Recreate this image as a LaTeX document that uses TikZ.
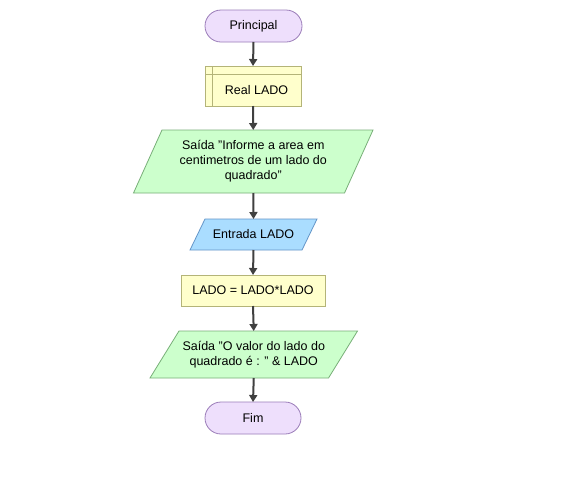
\documentclass[tikz,border=0pt]{standalone}
\usepackage{fontspec}
\setmainfont{Liberation Sans}
\usetikzlibrary{arrows.meta,backgrounds,calc}
\definecolor{termfill}{RGB}{238,223,252}
\definecolor{termdraw}{RGB}{155,125,185}
\definecolor{rectfill}{RGB}{255,255,204}
\definecolor{rectdraw}{RGB}{180,180,120}
\definecolor{outfill}{RGB}{204,255,204}
\definecolor{outdraw}{RGB}{120,175,120}
\definecolor{infill}{RGB}{170,221,255}
\definecolor{indraw}{RGB}{100,150,200}
\definecolor{arrowc}{RGB}{64,64,64}
\newcommand{\dq}{\symbol{34}}
\begin{document}
\begin{tikzpicture}[x=1pt,y=1pt,
  txt/.style={font=\fontsize{12.5}{15}\selectfont,align=center,inner sep=0pt,outer sep=0pt},
  term/.style={txt,draw=termdraw,fill=termfill,rounded corners=16pt,minimum width=97pt,minimum height=32pt,line width=0.8pt},
  proc/.style={txt,draw=rectdraw,fill=rectfill,minimum height=31pt,line width=0.8pt},
  box/.style={txt,minimum height=#1},
  flow/.style={draw=arrowc,line width=2pt,-{Triangle[width=8pt,length=7pt]}}
]
\useasboundingbox (0,0) rectangle (573,-491);

\node[term] (p) at (253.5,-26) {Principal};
\node[proc,minimum width=96pt,minimum height=40pt] (r) at (253,-86) {};
\node[txt] (rl) at ($(r.center)+(3.5,-4)$) {Real LADO};
\draw[rectdraw,line width=0.8pt] ($(r.north west)+(7,0)$) -- ($(r.south west)+(7,0)$);
\draw[rectdraw,line width=0.8pt] ($(r.north west)+(0,-8)$) -- ($(r.north east)+(0,-8)$);

\node[box=63pt,minimum width=211pt] (s1) at (253.25,-161.5) {Saída \dq Informe a area em\\centimetros de um lado do\\quadrado\dq};
\node[box=31pt,minimum width=112pt] (e) at (253.5,-234.5) {Entrada LADO};
\node[proc,minimum width=144pt] (a) at (253,-290.5) {LADO = LADO*LADO};
\node[box=47pt,minimum width=178.5pt] (s2) at (253.75,-354.5) {Saída \dq O valor do lado do\\quadrado é : \dq\ \& LADO};
\node[term,minimum width=96pt] (f) at (253,-418) {Fim};

\begin{scope}[on background layer]
\fill[white] (0,0) rectangle (573,-491);
\draw[outdraw,fill=outfill,line width=0.8pt]
  ($(s1.north west)+(14.25,0)$) -- ($(s1.north east)+(14.25,0)$) --
  ($(s1.south east)+(-14.25,0)$) -- ($(s1.south west)+(-14.25,0)$) -- cycle;
\draw[indraw,fill=infill,line width=0.8pt]
  ($(e.north west)+(7.5,0)$) -- ($(e.north east)+(7.5,0)$) --
  ($(e.south east)+(-7.5,0)$) -- ($(e.south west)+(-7.5,0)$) -- cycle;
\draw[outdraw,fill=outfill,line width=0.8pt]
  ($(s2.north west)+(14.5,0)$) -- ($(s2.north east)+(14.5,0)$) --
  ($(s2.south east)+(-14.5,0)$) -- ($(s2.south west)+(-14.5,0)$) -- cycle;
\end{scope}

\draw[flow] (p.south) -- (r.north);
\draw[flow] (r.south) -- (s1.north);
\draw[flow] (s1.south) -- (e.north);
\draw[flow] (e.south) -- (a.north);
\draw[flow] (a.south) -- (s2.north);
\draw[flow] (s2.south) -- (f.north);
\end{tikzpicture}
\end{document}
